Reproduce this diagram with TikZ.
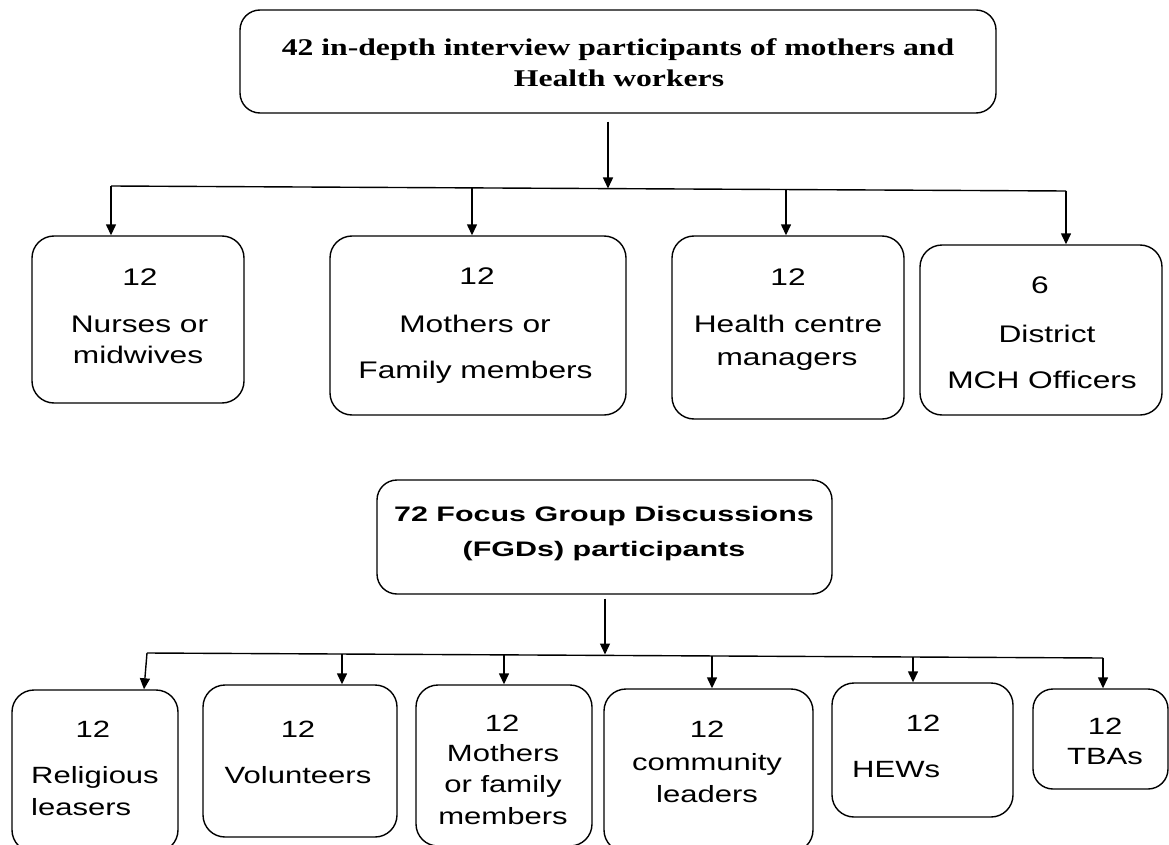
\documentclass[tikz,border=0pt]{standalone}
\usepackage{fontspec}
\setmainfont{Liberation Serif}[FakeStretch=1.32]
\newfontfamily\boxfont{Liberation Sans}[FakeStretch=1.32]
\newfontfamily\headfont{Liberation Sans}[FakeStretch=1.45]
\usetikzlibrary{arrows.meta}

\begin{document}
\begin{tikzpicture}[x=1pt,y=-1pt,
  frame/.style={draw, line width=1.4pt, rounded corners=22pt, inner sep=0pt},
  link/.style={line width=1.4pt},
  arr/.style={link, -{Triangle[width=10pt,length=11pt]}},
  titletext/.style={anchor=base, inner sep=0pt, font=\fontsize{24}{28}\selectfont\bfseries},
  headtext/.style={anchor=base, inner sep=0pt, font=\headfont\fontsize{21}{25}\selectfont\bfseries},
  rowtext/.style={anchor=base, inner sep=0pt, font=\boxfont\fontsize{24}{28}\selectfont},
  lowtext/.style={anchor=base, inner sep=0pt, font=\boxfont\fontsize{23.5}{28}\selectfont}
]
\useasboundingbox (0,0) rectangle (1169,845);
\clip (0,0) rectangle (1169,845);

% ---------- in-depth interviews ----------
\node[frame, rounded corners=20pt, minimum width=756pt, minimum height=103pt] (idi) at (618,61.5) {};
\node[titletext] (idiA) at (618,56) {42 in-depth interview participants of mothers and};
\node[titletext] (idiB) at (619,87) {Health workers};

\node[frame, minimum width=212pt, minimum height=167pt] (nur) at (138,319.5) {};
\node[rowtext] (nurA) at (140,285) {12};
\node[rowtext] (nurB) at (139.5,332) {Nurses or};
\node[rowtext] (nurC) at (138,363) {midwives};

\node[frame, minimum width=296pt, minimum height=179pt] (mot) at (478,325.5) {};
\node[rowtext] (motA) at (477,284) {12};
\node[rowtext] (motB) at (475,332) {Mothers or};
\node[rowtext] (motC) at (475.5,378) {Family members};

\node[frame, minimum width=232pt, minimum height=183pt] (hcm) at (788,327.5) {};
\node[rowtext] (hcmA) at (788,285) {12};
\node[rowtext] (hcmB) at (788,332) {Health centre};
\node[rowtext] (hcmC) at (787,365) {managers};

\node[frame, minimum width=242pt, minimum height=170pt] (mch) at (1041,330) {};
\node[rowtext] (mchA) at (1040,293) {6};
\node[rowtext] (mchB) at (1047,342) {District};
\node[rowtext] (mchC) at (1042,388) {MCH Officers};

% bus and branches
\coordinate (hub1) at (608,188.5);
\coordinate (bus1L) at (111,186);
\coordinate (bus1R) at (1066,191);
\coordinate (tap1b) at (472,187.9);
\coordinate (tap1c) at (786,189.5);
\draw[arr, shorten <=8pt] (idi.south -| hub1) -- (hub1);
\draw[link] (bus1L) -- (bus1R);
\draw[arr] (bus1L) -- (bus1L |- nur.north);
\draw[arr] (tap1b) -- (tap1b |- mot.north);
\draw[arr] (tap1c) -- (tap1c |- hcm.north);
\draw[arr] (bus1R) -- (bus1R |- mch.north);

% ---------- focus group discussions ----------
\node[frame, rounded corners=20pt, minimum width=455pt, minimum height=114pt] (fgd) at (604.5,537) {};
\node[headtext] (fgdA) at (604,521) {72 Focus Group Discussions};
\node[headtext] (fgdB) at (604,556) {(FGDs) participants};

\node[frame, minimum width=166pt, minimum height=162pt] (rel) at (95,771) {};
\node[lowtext] (relA) at (93,737) {12};
\node[lowtext, anchor=base west] (relB) at (31,783) {Religious};
\node[lowtext, anchor=base west] (relC) at (31,815) {leasers};

\node[frame, minimum width=194pt, minimum height=152pt] (vol) at (300,761) {};
\node[lowtext] (volA) at (298,737) {12};
\node[lowtext] (volB) at (298,783) {Volunteers};

\node[frame, minimum width=176pt, minimum height=161pt] (fam) at (504,765.5) {};
\node[lowtext] (famA) at (502,731) {12};
\node[lowtext] (famB) at (503,761) {Mothers};
\node[lowtext] (famC) at (503,792) {or family};
\node[lowtext] (famD) at (503,824) {members};

\node[frame, minimum width=209pt, minimum height=163pt] (com) at (708.5,770.5) {};
\node[lowtext] (comA) at (707,737) {12};
\node[lowtext] (comB) at (707,770) {community};
\node[lowtext] (comC) at (707,802) {leaders};

\node[frame, minimum width=181pt, minimum height=134pt] (hew) at (922.5,750) {};
\node[lowtext] (hewA) at (923,731) {12};
\node[lowtext, anchor=base west] (hewB) at (852,777) {HEWs};

\node[frame, rounded corners=20pt, minimum width=135pt, minimum height=100pt] (tba) at (1100.5,739) {};
\node[lowtext] (tbaA) at (1105,734) {12};
\node[lowtext] (tbaB) at (1105,764) {TBAs};

% bus and branches
\coordinate (hub2) at (605,654.5);
\coordinate (bus2L) at (147,653);
\coordinate (bus2R) at (1103,658);
\coordinate (tap2b) at (342,654.0);
\coordinate (tap2c) at (504,654.9);
\coordinate (tap2d) at (712,656.0);
\coordinate (tap2e) at (913,657.0);
\draw[arr, shorten <=4pt] (fgd.south -| hub2) -- (hub2);
\draw[link] (bus2L) -- (bus2R);
\draw[arr] (bus2L) -- ([xshift=49pt]rel.north);
\draw[arr] (tap2b) -- (tap2b |- vol.north);
\draw[arr] (tap2c) -- (tap2c |- fam.north);
\draw[arr] (tap2d) -- (tap2d |- com.north);
\draw[arr] (tap2e) -- (tap2e |- hew.north);
\draw[arr] (bus2R) -- (bus2R |- tba.north);
\end{tikzpicture}
\end{document}
